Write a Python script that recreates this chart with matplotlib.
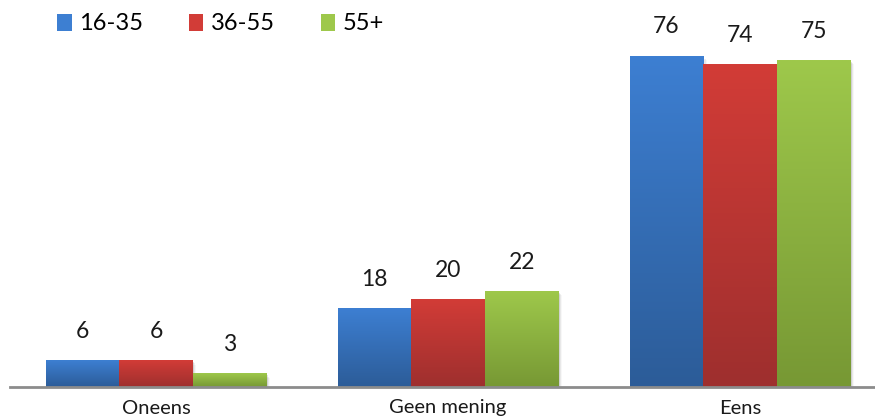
import numpy as np
import matplotlib
matplotlib.use("Agg")
import matplotlib.pyplot as plt
from matplotlib.colors import LinearSegmentedColormap
from matplotlib.patches import Rectangle, Patch

categories = ["Oneens", "Geen mening", "Eens"]
series_names = ["16-35", "36-55", "55+"]
values_1635 = [6, 18, 76]
values_3655 = [6, 20, 74]
values_55plus = [3, 22, 75]
series_values = [values_1635, values_3655, values_55plus]

# (top colour, bottom colour) for each series' vertical gradient
gradients = [("#3d7fd2", "#2c5c98"), ("#d23c37", "#9e2f2e"), ("#9ec84b", "#779834")]

FONT = ["Lato", "DejaVu Sans"]
plt.rcParams["font.family"] = FONT

fig = plt.figure(figsize=(8.75, 4.17), dpi=100)
W, H = 875, 417
ax = fig.add_axes([10 / W, 30 / H, (875 - 10) / W, (417 - 30) / H])

bar_w = 0.252
x = np.arange(len(categories))
ymax = 88.9

grad = np.linspace(0, 1, 256).reshape(-1, 1)
for i, (vals, (c_top, c_bot)) in enumerate(zip(series_values, gradients)):
    cmap = LinearSegmentedColormap.from_list(f"g{i}", [c_bot, c_top])
    offs = (i - 1) * bar_w
    bars = ax.bar(x + offs, vals, width=bar_w, color="none", edgecolor="none", zorder=2)
    for b, v in zip(bars, vals):
        x0 = b.get_x()
        # soft shadow on the right and bottom
        for k, a in enumerate([0.10, 0.06, 0.03]):
            ax.add_patch(Rectangle((x0 + 0.004 * (k + 1), -0.3 * (k + 1)), bar_w, v,
                                   facecolor="black", alpha=a, edgecolor="none",
                                   zorder=1.5 - 0.1 * k))
        ax.imshow(grad, extent=(x0, x0 + bar_w, 0, v), origin="lower", cmap=cmap,
                  aspect="auto", zorder=2, interpolation="bilinear")
        ax.text(b.get_x() + bar_w / 2, v + 4.3, f"{v}", ha="center", va="bottom",
                fontsize=16.5, color="#1a1a1a", zorder=3)

ax.set_xlim(-0.5, 2.462)
ax.set_ylim(0, ymax)

for s in ["top", "right", "left"]:
    ax.spines[s].set_visible(False)
ax.spines["bottom"].set_color("#8c8c8c")
ax.spines["bottom"].set_linewidth(2)
ax.spines["bottom"].set_zorder(4)
ax.set_yticks([])
ax.set_xticks(x)
ax.set_xticklabels(categories, fontsize=14.5, color="#1a1a1a")
ax.tick_params(axis="x", length=0, pad=9)

handles = [Patch(facecolor=ct, edgecolor="none") for ct, cb in gradients]
fig.legend(handles, series_names, loc="center left", bbox_to_anchor=(57 / W, 1 - 24 / H),
           ncol=3, frameon=False, fontsize=17, handlelength=0.62, handleheight=0.7,
           handletextpad=0.3, columnspacing=1.95, borderaxespad=0, borderpad=0)

fig.savefig("out.png", dpi=100)
